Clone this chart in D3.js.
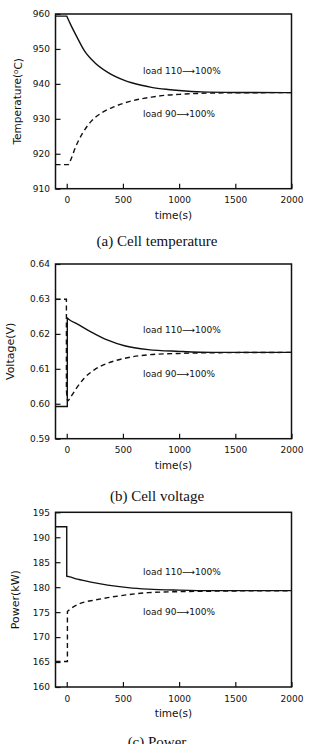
<!DOCTYPE html>
<html>
<head>
<meta charset="utf-8">
<script src="https://cdn.jsdelivr.net/npm/d3@7"></script>
<style>
  body { margin: 0; background: #fff; }
</style>
</head>
<body>
<div id="plot"></div>
<script>
// Values: [time (s), value]
const timeTicks = [0, 500, 1000, 1500, 2000];

const tempTicks = [910, 920, 930, 940, 950, 960];
const tempLoad110 = [[-100, 959.4], [0, 959.4], [36, 956.9], [96, 953.1], [155, 949.6], [245, 946.2],
  [365, 943.3], [514, 941.0], [664, 939.6], [754, 939.0], [900, 938.4], [1000, 938.1],
  [1200, 937.7], [1500, 937.55], [2000, 937.5]];
const tempLoad90 = [[-100, 916.9], [15, 916.9], [36, 918.3], [81, 922.1], [141, 925.9], [215, 929.2],
  [305, 931.6], [425, 933.5], [575, 935.1], [754, 936.2], [900, 936.8], [1000, 937.0],
  [1200, 937.3], [1500, 937.45], [2000, 937.5]];

const voltTicks = [0.59, 0.60, 0.61, 0.62, 0.63, 0.64];
const voltLoad110 = [[-100, 0.5992], [5, 0.5992], [5, 0.6245], [20, 0.6241], [96, 0.6228], [215, 0.6206],
  [365, 0.6182], [514, 0.6166], [724, 0.6155], [1000, 0.6150], [1300, 0.6147], [2000, 0.6147]];
const voltLoad90 = [[-100, 0.6299], [-3, 0.6299], [-3, 0.6040], [8, 0.6008], [36, 0.6020], [96, 0.6049],
  [155, 0.6073], [245, 0.6097], [365, 0.6116], [514, 0.6130], [724, 0.6140], [1000, 0.6144],
  [1300, 0.6146], [2000, 0.6147]];

const powerTicks = [160, 165, 170, 175, 180, 185, 190, 195];
const powerLoad110 = [[-100, 192.1], [0, 192.1], [0, 182.2], [20, 182.1], [96, 181.6], [215, 181.0],
  [365, 180.4], [545, 179.9], [724, 179.6], [1000, 179.4], [1300, 179.3], [2000, 179.3]];
const powerLoad90 = [[-100, 165.1], [6, 165.1], [6, 175.1], [36, 175.7], [96, 176.5], [155, 177.0],
  [245, 177.4], [365, 177.9], [514, 178.4], [724, 178.9], [1000, 179.1], [1300, 179.2], [2000, 179.3]];

const width = 311, height = 744;

const svg = d3.select('#plot')
  .append('svg')
  .attr('width', width)
  .attr('height', height);

const x = d3.scaleLinear().domain([-100, 2000]).range([55.5, 291.5]);

const panels = [
  { top: 14, bottom: 188.7, domain: [910, 960], ticks: tempTicks, fmt: d3.format('d'),
    high: tempLoad110, low: tempLoad90, labelHigh: 943.7, labelLow: 931.4,
    ylabel: 'temp', ylabelX: 21, ylabelSize: 10.5, caption: '(a) Cell temperature', captionY: 246 },
  { top: 264, bottom: 438.7, domain: [0.59, 0.64], ticks: voltTicks, fmt: d3.format('.2f'),
    high: voltLoad110, low: voltLoad90, labelHigh: 0.6211, labelLow: 0.6087,
    ylabel: 'Voltage(V)', ylabelX: 14, ylabelSize: 11, caption: '(b) Cell voltage', captionY: 501 },
  { top: 512.3, bottom: 687, domain: [160, 195], ticks: powerTicks, fmt: d3.format('d'),
    high: powerLoad110, low: powerLoad90, labelHigh: 183.0, labelLow: 175.0,
    ylabel: 'Power(kW)', ylabelX: 18.5, ylabelSize: 11, caption: '(c) Power', captionY: 747 }
];

// index where the step (flat part / vertical jump) ends and the smooth transient begins
function stepEnd(data) {
  let k = 0;
  for (let i = 1; i < data.length; i++) {
    if (data[i][0] === data[i - 1][0] || data[i][1] === data[i - 1][1]) k = i;
    else break;
  }
  return k;
}

panels.forEach(p => {
  const y = d3.scaleLinear().domain(p.domain).range([p.bottom, p.top]);
  const g = svg.append('g');

  // axes with inward ticks
  const ya = g.append('g')
    .attr('transform', `translate(${x.range()[0]},0)`)
    .call(d3.axisLeft(y).tickValues(p.ticks).tickFormat(p.fmt).tickSize(-5).tickPadding(5.5));
  const xa = g.append('g')
    .attr('transform', `translate(0,${p.bottom})`)
    .call(d3.axisBottom(x).tickValues(timeTicks).tickFormat(d3.format('d')).tickSize(-5).tickPadding(8.2));
  [ya, xa].forEach(a => {
    a.select('.domain').remove();
    a.selectAll('line').attr('stroke', '#111').attr('stroke-width', 1.2);
    a.selectAll('text').attr('fill', '#111')
      .style('font-family', 'DejaVu Sans').style('font-size', '9px');
  });

  // curves: straight step, then smooth transient
  const stepLine = d3.line().x(d => x(d[0])).y(d => y(d[1]));
  const smoothLine = d3.line().x(d => x(d[0])).y(d => y(d[1])).curve(d3.curveMonotoneX);
  const pathFor = data => {
    const k = stepEnd(data);
    return stepLine(data.slice(0, k + 1)) + smoothLine(data.slice(k)).replace(/^M[^LC]*/, '');
  };
  g.append('path')
    .attr('d', pathFor(p.high)).attr('fill', 'none')
    .attr('stroke', '#111').attr('stroke-width', 1.4);
  g.append('path')
    .attr('d', pathFor(p.low)).attr('fill', 'none')
    .attr('stroke', '#111').attr('stroke-width', 1.4)
    .attr('stroke-dasharray', '5,3.5');

  // frame
  g.append('rect')
    .attr('x', x.range()[0]).attr('y', p.top)
    .attr('width', x.range()[1] - x.range()[0]).attr('height', p.bottom - p.top)
    .attr('fill', 'none').attr('stroke', '#111').attr('stroke-width', 1.5);

  // annotations
  [[p.labelHigh, 'load 110'], [p.labelLow, 'load 90']].forEach(([v, t]) => {
    g.append('text')
      .attr('x', x(678)).attr('y', y(v)).attr('dy', '0.35em')
      .style('font-family', 'DejaVu Sans').style('font-size', '9px')
      .attr('fill', '#111')
      .text(t + '\u27F6100%');
  });

  // y label
  const yl = g.append('text')
    .attr('transform', `translate(${p.ylabelX},${(p.top + p.bottom) / 2}) rotate(-90)`)
    .attr('text-anchor', 'middle')
    .style('font-family', 'DejaVu Sans').style('font-size', p.ylabelSize + 'px')
    .attr('fill', '#111');
  if (p.ylabel === 'temp') {
    yl.append('tspan').text('Temperature(');
    yl.append('tspan').text('o').attr('dy', '-0.4em').style('font-size', '7px');
    yl.append('tspan').text('C)').attr('dy', '0.4em');
  } else {
    yl.text(p.ylabel);
  }

  // x label
  g.append('text')
    .attr('x', (x.range()[0] + x.range()[1]) / 2).attr('y', p.bottom + 30)
    .attr('text-anchor', 'middle')
    .style('font-family', 'DejaVu Sans').style('font-size', '10.5px')
    .attr('fill', '#111')
    .text('time(s)');

  // caption
  g.append('text')
    .attr('x', 157).attr('y', p.captionY)
    .attr('text-anchor', 'middle')
    .style('font-family', 'Liberation Serif').style('font-size', '15px')
    .attr('fill', '#111')
    .text(p.caption);
});
</script>
</body>
</html>
